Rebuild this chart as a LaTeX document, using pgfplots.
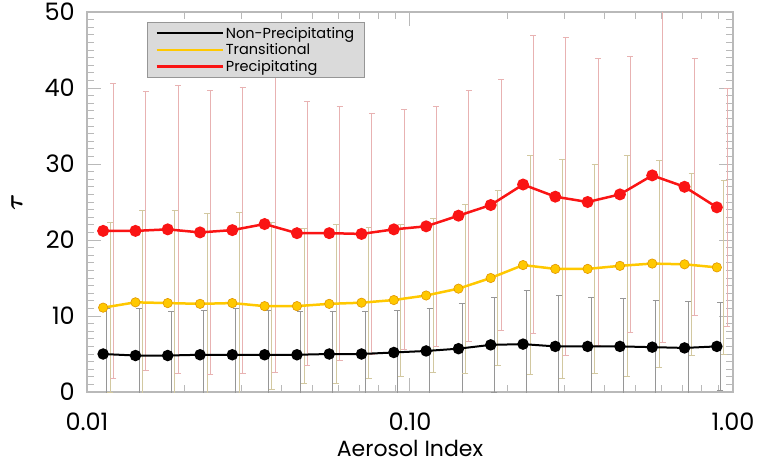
\documentclass[border=0pt]{standalone}
\usepackage{fontspec}
\setmainfont{Poppins}
\usepackage{bm}
\usepackage{pgfplots}
\usepackage{pgfplotstable}
\pgfplotsset{compat=1.18}

\definecolor{cred}{RGB}{250,20,20}
\definecolor{cyel}{RGB}{255,200,0}
\definecolor{cyeld}{RGB}{225,150,0}
\definecolor{ebk}{RGB}{150,150,150}
\definecolor{eyl}{RGB}{210,200,160}
\definecolor{erd}{RGB}{232,178,178}
\definecolor{frame}{RGB}{185,185,185}
\definecolor{lgfill}{RGB}{218,218,218}
\definecolor{lgdraw}{RGB}{150,150,150}

\pgfplotstableread{
x       b    bs    y     ys    r    rs
0.01122 5.0  6.0   11.1  11.2  21.2 19.4
0.01413 4.8  6.2   11.8  12.1  21.2 18.4
0.01778 4.8  5.8   11.7  12.2  21.4 18.9
0.02239 4.9  5.9   11.6  11.9  21.0 18.7
0.02818 4.9  6.1   11.7  11.9  21.3 18.8
0.03548 4.9  5.9   11.3  11.0  22.1 19.5
0.04467 4.9  5.7   11.3  10.2  20.9 17.4
0.05623 5.0  5.6   11.6  10.5  20.9 16.7
0.07079 5.0  5.6   11.75 9.9   20.8 15.8
0.08913 5.2  5.5   12.1  10.0  21.4 15.8
0.1122  5.4  5.6   12.7  10.1  21.8 15.8
0.1413  5.7  6.0   13.6  11.1  23.2 16.5
0.1778  6.2  6.3   15.0  11.5  24.6 16.5
0.2239  6.3  7.1   16.7  14.4  27.3 19.6
0.2818  6.0  6.7   16.2  14.4  25.7 20.9
0.3548  6.0  6.5   16.2  13.8  25.0 18.9
0.4467  6.0  6.3   16.6  14.5  26.0 18.1
0.5623  5.9  6.2   16.9  13.6  28.5 22.0
0.7079  5.8  6.1   16.8  12.0  27.0 16.9
0.8913  6.0  5.75  16.4  11.5  24.3 15.7
}\data

\begin{document}
\begin{tikzpicture}
\useasboundingbox (-87pt,-72pt) rectangle (676pt,392pt);
\begin{axis}[
  at={(0pt,0pt)}, anchor=south west,
  scale only axis, width=646pt, height=380pt,
  xmode=log, xmin=0.01, xmax=1, ymin=0, ymax=50,
  xtick={0.01,0.1,1}, xticklabels={0.01,0.10,1.00},
  ytick={0,10,20,30,40,50}, yticklabels={0,10,20,30,40,50},
  minor y tick num=9,
  axis line style={draw=frame, line width=1.2pt},
  tick style={draw=frame, line width=1pt},
  major tick length=14pt, minor tick length=7pt,
  tick label style={font=\fontsize{24}{24}\selectfont, text=black},
  xticklabel style={anchor=center, yshift=-29.7pt, inner sep=0pt},
  yticklabel style={anchor=east, xshift=-12pt, inner sep=0pt},
  xlabel={Aerosol Index},
  xlabel style={font=\fontsize{22}{22}\selectfont, inner sep=0pt, at={(axis description cs:0.5,-0.148)}, anchor=center},
  ylabel={$\bm{\tau}$},
  ylabel style={font=\fontsize{28}{28}\selectfont, at={(axis description cs:-0.1084,0.5)}, anchor=center},
  legend style={at={(axis description cs:0.0929,0.9745)}, anchor=north west,
    fill=lgfill, draw=lgdraw, line width=0.8pt,
    font=\fontsize{14.5}{16}\selectfont, inner xsep=8pt, inner ysep=3pt},
  legend image code/.code={\draw[#1] (0pt,0pt) -- (66pt,0pt);},
  legend cell align=left,
]
\addplot[forget plot, draw=none, mark=none,
  error bars/.cd, y dir=both, y explicit,
  error bar style={draw=ebk, line width=0.8pt},
  error mark options={rotate=90, mark size=3pt, draw=ebk, line width=0.8pt}]
  table[x expr=\thisrow{x}*1.0253, y=b, y error=bs]{\data};
\addplot[forget plot, draw=none, mark=none,
  error bars/.cd, y dir=both, y explicit,
  error bar style={draw=eyl, line width=0.8pt},
  error mark options={rotate=90, mark size=3pt, draw=eyl, line width=0.8pt}]
  table[x expr=\thisrow{x}*1.0512, y=y, y error=ys]{\data};
\addplot[forget plot, draw=none, mark=none,
  error bars/.cd, y dir=both, y explicit,
  error bar style={draw=erd, line width=0.8pt},
  error mark options={rotate=90, mark size=3pt, draw=erd, line width=0.8pt}]
  table[x expr=\thisrow{x}*1.0762, y=r, y error=rs]{\data};

\addplot[black, line width=2pt, mark=*, mark size=4.7pt, mark options={fill=black, draw=black}]
  table[x=x, y=b]{\data};
\addlegendentry{Non-Precipitating}
\addplot[cyel, line width=2.5pt, mark=*, mark size=4.7pt, mark options={fill=cyel, draw=cyeld, line width=0.6pt}]
  table[x=x, y=y]{\data};
\addlegendentry{Transitional}
\addplot[cred, line width=2.5pt, mark=*, mark size=4.7pt, mark options={fill=cred, draw=cred}]
  table[x=x, y=r]{\data};
\addlegendentry{Precipitating}
\end{axis}
\end{tikzpicture}
\end{document}
